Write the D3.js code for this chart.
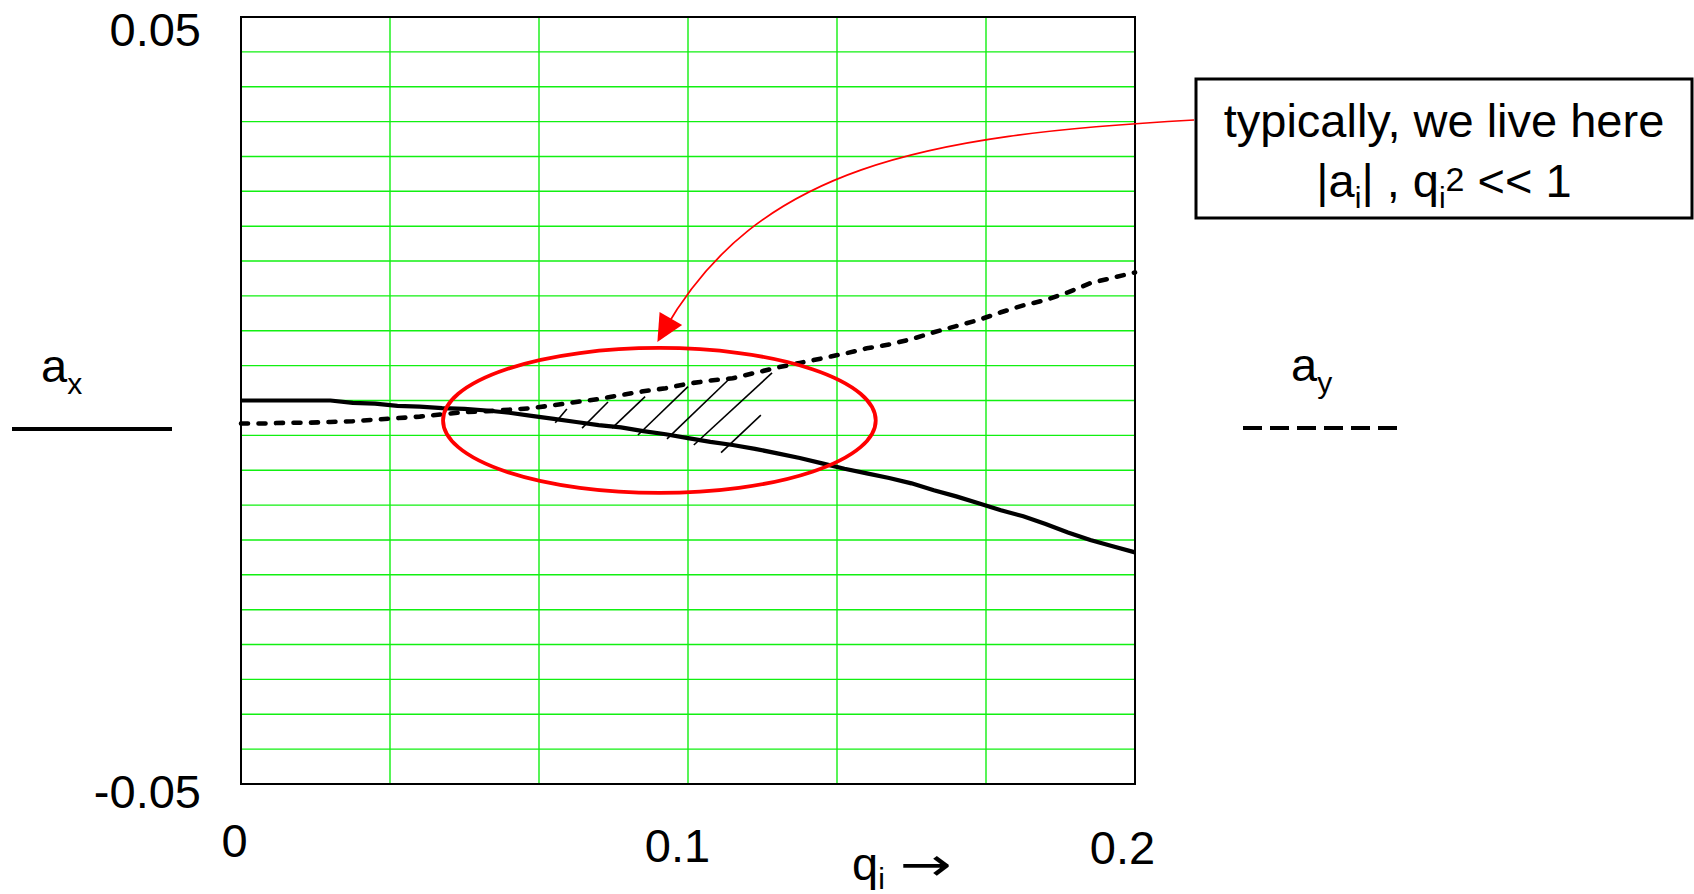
<!DOCTYPE html>
<html>
<head>
<meta charset="utf-8">
<script src="https://cdn.jsdelivr.net/npm/d3@7"></script>
<style>
  body { margin: 0; background: #fff; }
  svg text { font-family: "Liberation Sans", Arial, sans-serif; fill: #000; white-space: pre; }
</style>
</head>
<body>
<svg id="chart" width="1694" height="894"></svg>
<script>
// values
const qValues = [0, 0.005, 0.01, 0.015, 0.02, 0.025, 0.03, 0.035, 0.04, 0.045,
    0.05, 0.055, 0.06, 0.065, 0.07, 0.075, 0.08, 0.085, 0.09, 0.095,
    0.1, 0.105, 0.11, 0.115, 0.12, 0.125, 0.13, 0.135, 0.14, 0.145,
    0.15, 0.155, 0.16, 0.165, 0.17, 0.175, 0.18, 0.185, 0.19, 0.195, 0.2];
const axValues = [0, 0, 0, 0, 0, -0.0003, -0.0004, -0.0007, -0.0008, -0.001,
    -0.0011, -0.0013, -0.0016, -0.002, -0.0024, -0.0028, -0.0032, -0.0035, -0.004, -0.0044,
    -0.0049, -0.0054, -0.0058, -0.0063, -0.0069, -0.0075, -0.0082, -0.0089, -0.0095, -0.0101,
    -0.0108, -0.0117, -0.0125, -0.0134, -0.0143, -0.0151, -0.0161, -0.0172, -0.0182, -0.019, -0.0198];
const ayValues = [-0.003, -0.003, -0.0029, -0.0029, -0.0028, -0.0027, -0.0025, -0.0023, -0.0021, -0.0018,
    -0.0015, -0.0014, -0.0012, -0.001, -0.0006, -0.0002, 0.0002, 0.0007, 0.0012, 0.0016,
    0.0022, 0.0026, 0.0029, 0.0036, 0.0043, 0.0049, 0.0055, 0.0061, 0.0068, 0.0073,
    0.008, 0.0089, 0.0097, 0.0105, 0.0115, 0.0124, 0.0131, 0.0141, 0.0153, 0.016, 0.0167];

const xTickValues = [0, 0.1, 0.2];
const xTickLabels = ["0", "0.1", "0.2"];
const yTickValues = [-0.05, 0.05];
const yTickLabels = ["-0.05", "0.05"];
const xGridCount = 6;
const yGridCount = 22;

// hatch strokes between the two curves: [q0, a0, q1, a1]
const hatchLines = [
    [0.0703, -0.0029, 0.0729, -0.0011],
    [0.0763, -0.0036, 0.0821, -0.0002],
    [0.083, -0.0036, 0.0904, 0.0005],
    [0.0888, -0.0045, 0.1, 0.0018],
    [0.0953, -0.005, 0.1094, 0.0029],
    [0.1013, -0.0058, 0.1188, 0.0036],
    [0.1074, -0.0068, 0.1163, -0.0019]
];
// region marked in red: centre and half-axes in data units
const regionEllipse = { q: 0.0936, a: -0.0026, rq: 0.0484, ra: 0.00945 };

const margin = { top: 17, left: 241 };
const plotWidth = 894;
const plotHeight = 767;

drawChart();

function drawChart() {
    let svg = d3.select("#chart");
    let data = qValues.map((q, i) => ({ q: q, ax: axValues[i], ay: ayValues[i] }));

    let x = d3.scaleLinear().domain([0, 0.2]).range([0, plotWidth]);
    let y = d3.scaleLinear().domain([-0.05, 0.05]).range([plotHeight, 0]);

    let body = svg.append("g")
        .attr("transform", `translate(${margin.left},${margin.top})`);

    drawGrid(body, x, y);
    drawAxes(body, x, y);
    drawCurves(body, data, x, y);
    drawRegion(body, x, y);
    drawNote(svg, x, y);
    drawLegend(svg);
}

function drawGrid(body, x, y) {
    let xs = d3.range(1, xGridCount).map(i => 0.2 * i / xGridCount);
    let ys = d3.range(1, yGridCount).map(i => -0.05 + 0.1 * i / yGridCount);

    body.append("g").selectAll("line")
        .data(xs)
        .join("line")
        .attr("x1", d => x(d)).attr("x2", d => x(d))
        .attr("y1", 0).attr("y2", plotHeight)
        .attr("stroke", "#11f011")
        .attr("stroke-width", 1.4);

    body.append("g").selectAll("line")
        .data(ys)
        .join("line")
        .attr("x1", 0).attr("x2", plotWidth)
        .attr("y1", d => y(d)).attr("y2", d => y(d))
        .attr("stroke", "#11f011")
        .attr("stroke-width", 1.4);

    body.append("rect")
        .attr("width", plotWidth)
        .attr("height", plotHeight)
        .attr("fill", "none")
        .attr("stroke", "#000")
        .attr("stroke-width", 2);
}

function drawAxes(body, x, y) {
    let xAxis = d3.axisBottom(x)
        .tickValues(xTickValues)
        .tickFormat((d, i) => xTickLabels[i])
        .tickSize(0)
        .tickPadding(42);
    let gx = body.append("g")
        .attr("transform", `translate(0,${plotHeight})`)
        .call(xAxis);
    gx.select(".domain").remove();
    gx.selectAll("text")
        .attr("x", (d, i) => [-7, -11, -13][i])
        .attr("dy", (d, i) => ["0.66em", "0.76em", "0.8em"][i])
        .attr("font-size", 47)
        .attr("font-family", null);

    let yAxis = d3.axisLeft(y)
        .tickValues(yTickValues)
        .tickFormat((d, i) => yTickLabels[i])
        .tickSize(0)
        .tickPadding(40);
    let gy = body.append("g").call(yAxis);
    gy.select(".domain").remove();
    gy.selectAll("text")
        .attr("dy", (d, i) => ["0.5em", "0.6em"][i])
        .attr("font-size", 47)
        .attr("font-family", null);

    // axis caption q_i ->
    let capY = 880 - margin.top;
    let cap = body.append("text")
        .attr("x", 611)
        .attr("y", capY)
        .attr("font-size", 47);
    cap.append("tspan").text("q");
    cap.append("tspan").attr("font-size", 30).attr("dy", 9).text("i");

    body.append("text")
        .attr("transform", `translate(659,${capY}) scale(1.35,1)`)
        .style("font-family", "'DejaVu Sans', sans-serif")
        .attr("font-size", 46)
        .text("\u2192");
}

function drawCurves(body, data, x, y) {
    body.append("g").selectAll("line")
        .data(hatchLines)
        .join("line")
        .attr("x1", d => x(d[0])).attr("y1", d => y(d[1]))
        .attr("x2", d => x(d[2])).attr("y2", d => y(d[3]))
        .attr("stroke", "#000")
        .attr("stroke-width", 1.6);

    let axLine = d3.line().x(d => x(d.q)).y(d => y(d.ax));
    let ayLine = d3.line().x(d => x(d.q)).y(d => y(d.ay));

    body.append("path")
        .datum(data)
        .attr("d", axLine)
        .attr("fill", "none")
        .attr("stroke", "#000")
        .attr("stroke-width", 4.2);

    body.append("path")
        .datum(data)
        .attr("d", ayLine)
        .attr("fill", "none")
        .attr("stroke", "#000")
        .attr("stroke-width", 4.6)
        .attr("stroke-linecap", "round")
        .attr("stroke-dasharray", "7,10.5");
}

function drawRegion(body, x, y) {
    body.append("ellipse")
        .attr("cx", x(regionEllipse.q))
        .attr("cy", y(regionEllipse.a))
        .attr("rx", x(regionEllipse.q + regionEllipse.rq) - x(regionEllipse.q))
        .attr("ry", y(regionEllipse.a) - y(regionEllipse.a + regionEllipse.ra))
        .attr("fill", "none")
        .attr("stroke", "#ff0000")
        .attr("stroke-width", 3.8);
}

function drawNote(svg, x, y) {
    let box = { x: 1196, y: 79, w: 496, h: 139 };

    svg.append("rect")
        .attr("x", box.x).attr("y", box.y)
        .attr("width", box.w).attr("height", box.h)
        .attr("fill", "#fff")
        .attr("stroke", "#000")
        .attr("stroke-width", 3);

    let cx = box.x + box.w / 2;
    svg.append("text")
        .attr("x", cx).attr("y", 137)
        .attr("text-anchor", "middle")
        .attr("font-size", 47)
        .text("typically, we live here");

    let line2 = svg.append("text")
        .attr("x", cx).attr("y", 197)
        .attr("text-anchor", "middle")
        .attr("font-size", 47);
    let parts = [
        { t: "|a", s: 0, f: 47 }, { t: "i", s: 11, f: 30 }, { t: "| , q", s: 0, f: 47 },
        { t: "i", s: 11, f: 30 }, { t: "2", s: -6, f: 34 }, { t: " << 1", s: 0, f: 47 }
    ];
    let prev = 0;
    parts.forEach(p => {
        line2.append("tspan")
            .attr("dy", p.s - prev)
            .attr("font-size", p.f)
            .text(p.t);
        prev = p.s;
    });

    // curved pointer from the note down to the top of the ellipse
    let tipX = margin.left + x(regionEllipse.q) - 2;
    let tipY = margin.top + y(regionEllipse.a + regionEllipse.ra) - 6;
    let startX = box.x - 2, startY = 120;

    let p = d3.path();
    p.moveTo(startX, startY);
    p.bezierCurveTo(920, 135, tipX + 100, tipY - 174, tipX + 7, tipY - 12);
    svg.append("path")
        .attr("d", p.toString())
        .attr("fill", "none")
        .attr("stroke", "#ff0000")
        .attr("stroke-width", 1.7);

    // arrow head along the end tangent
    let ang = Math.atan2(174, -100);
    let len = 27, half = 13;
    let bx = tipX - len * Math.cos(ang), by = tipY - len * Math.sin(ang);
    let nx = -Math.sin(ang), ny = Math.cos(ang);
    svg.append("path")
        .attr("d", `M${tipX},${tipY}L${bx + nx * half},${by + ny * half}L${bx - nx * half},${by - ny * half}Z`)
        .attr("fill", "#ff0000");
}

function drawLegend(svg) {
    let ax = svg.append("text").attr("x", 41).attr("y", 382).attr("font-size", 47);
    ax.append("tspan").text("a");
    ax.append("tspan").attr("font-size", 30).attr("dy", 12).text("x");

    svg.append("line")
        .attr("x1", 12).attr("x2", 172)
        .attr("y1", 429).attr("y2", 429)
        .attr("stroke", "#000")
        .attr("stroke-width", 3.8);

    let ay = svg.append("text").attr("x", 1291).attr("y", 381).attr("font-size", 47);
    ay.append("tspan").text("a");
    ay.append("tspan").attr("font-size", 30).attr("dy", 12).text("y");

    svg.append("line")
        .attr("x1", 1243).attr("x2", 1400)
        .attr("y1", 428).attr("y2", 428)
        .attr("stroke", "#000")
        .attr("stroke-width", 3.8)
        .attr("stroke-dasharray", "19,8");
}
</script>
</body>
</html>
